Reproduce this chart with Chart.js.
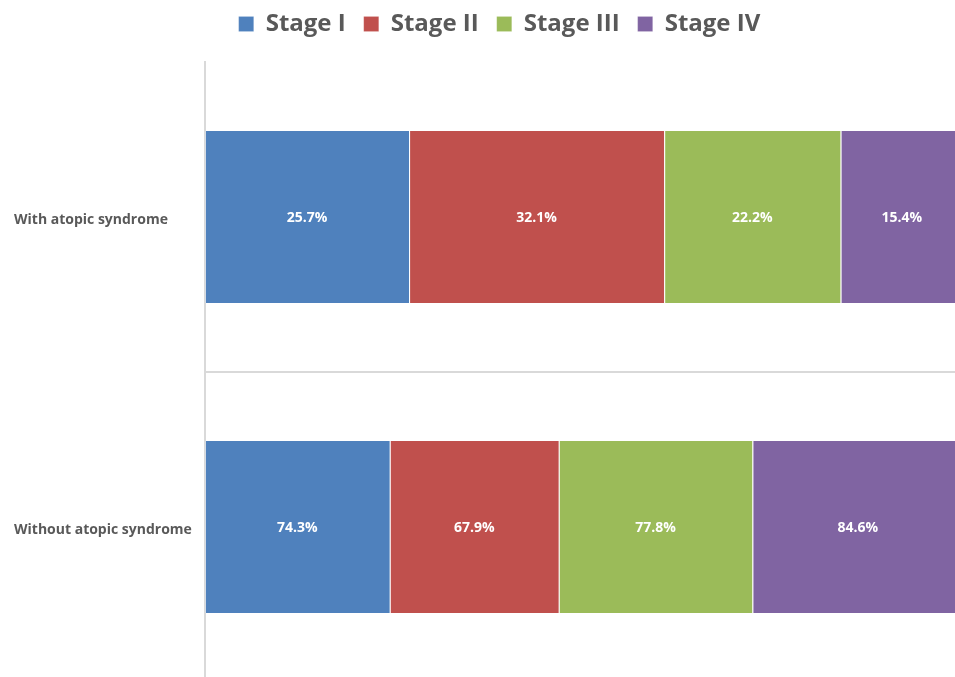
<!DOCTYPE html>
<html>
<head>
<meta charset="utf-8">
<script src="https://cdn.jsdelivr.net/npm/chart.js@4"></script>
<style>
  html, body { margin: 0; padding: 0; background: #fff; }
  .wrap { width: 955px; height: 677px; overflow: hidden; position: relative; }
  .box { width: 1000px; height: 697px; }
</style>
</head>
<body>
<div class="wrap"><div class="box"><canvas id="chart"></canvas></div></div>
<script>
// categories and values
const categories = ["With atopic syndrome", "Without atopic syndrome"];
const stageNames = ["Stage I", "Stage II", "Stage III", "Stage IV"];
const stage1 = [25.7, 74.3];
const stage2 = [32.1, 67.9];
const stage3 = [22.2, 77.8];
const stage4 = [15.4, 84.6];
const stageColors = ["#4F81BD", "#C0504D", "#9BBB59", "#8064A2"];

const allStages = [stage1, stage2, stage3, stage4];

// 100% stacked: each row is scaled to its own total
const rowTotals = categories.map((c, i) =>
  allStages.reduce((sum, s) => sum + s[i], 0)
);

const datasets = allStages.map((s, k) => ({
  label: stageNames[k],
  data: s.map((v, i) => (v / rowTotals[i]) * 100),
  raw: s,
  backgroundColor: stageColors[k],
  borderColor: "rgba(255,255,255,0.55)",
  borderWidth: { left: 1, right: 0, top: 0, bottom: 0 },
  borderSkipped: false,
  barPercentage: 0.555,
  categoryPercentage: 1,
}));

// white labels in the middle of each segment
const segmentLabels = {
  id: "segmentLabels",
  afterDatasetsDraw(chart) {
    const ctx = chart.ctx;
    ctx.save();
    ctx.fillStyle = "#ffffff";
    ctx.font = "bold 14px 'Open Sans'";
    ctx.textAlign = "center";
    ctx.textBaseline = "middle";
    chart.data.datasets.forEach((ds, k) => {
      chart.getDatasetMeta(k).data.forEach((bar, i) => {
        const p = bar.getProps(["x", "y", "base"], true);
        ctx.fillText(ds.raw[i].toFixed(1) + "%", (p.x + p.base) / 2, p.y + 1);
      });
    });
    ctx.restore();
  },
};

// more room under the legend, and centre it a little further right
const legendGap = {
  id: "legendGap",
  beforeInit(chart) {
    const origFit = chart.legend.fit;
    chart.legend.fit = function () {
      origFit.bind(chart.legend)();
      this.height += 16;
    };
  },
  afterLayout(chart) {
    chart.legend.left += 11;
    chart.legend.right += 11;
  },
};

new Chart(document.getElementById("chart"), {
  type: "bar",
  data: { labels: categories, datasets: datasets },
  options: {
    indexAxis: "y",
    responsive: true,
    maintainAspectRatio: false,
    animation: false,
    layout: { padding: { left: 14, right: 37, top: -6, bottom: 0 } },
    plugins: {
      tooltip: { enabled: false },
      legend: {
        position: "top",
        labels: {
          color: "#595959",
          font: { family: "'Open Sans'", size: 24, weight: "bold" },
          boxWidth: 15,
          boxHeight: 15,
          padding: 18,
        },
      },
    },
    scales: {
      x: {
        stacked: true,
        min: 0,
        max: 100,
        display: false,
      },
      y: {
        stacked: true,
        border: { color: "#d9d9d9", width: 2 },
        grid: {
          offset: true,
          drawTicks: false,
          lineWidth: 2,
          color: (c) => (c.index === 1 ? "#d9d9d9" : "rgba(0,0,0,0)"),
        },
        ticks: {
          crossAlign: "far",
          padding: 6.5,
          labelOffset: 3,
          color: "#595959",
          font: { family: "'Open Sans'", size: 14, weight: "bold" },
        },
      },
    },
  },
  plugins: [segmentLabels, legendGap],
});
</script>
</body>
</html>
